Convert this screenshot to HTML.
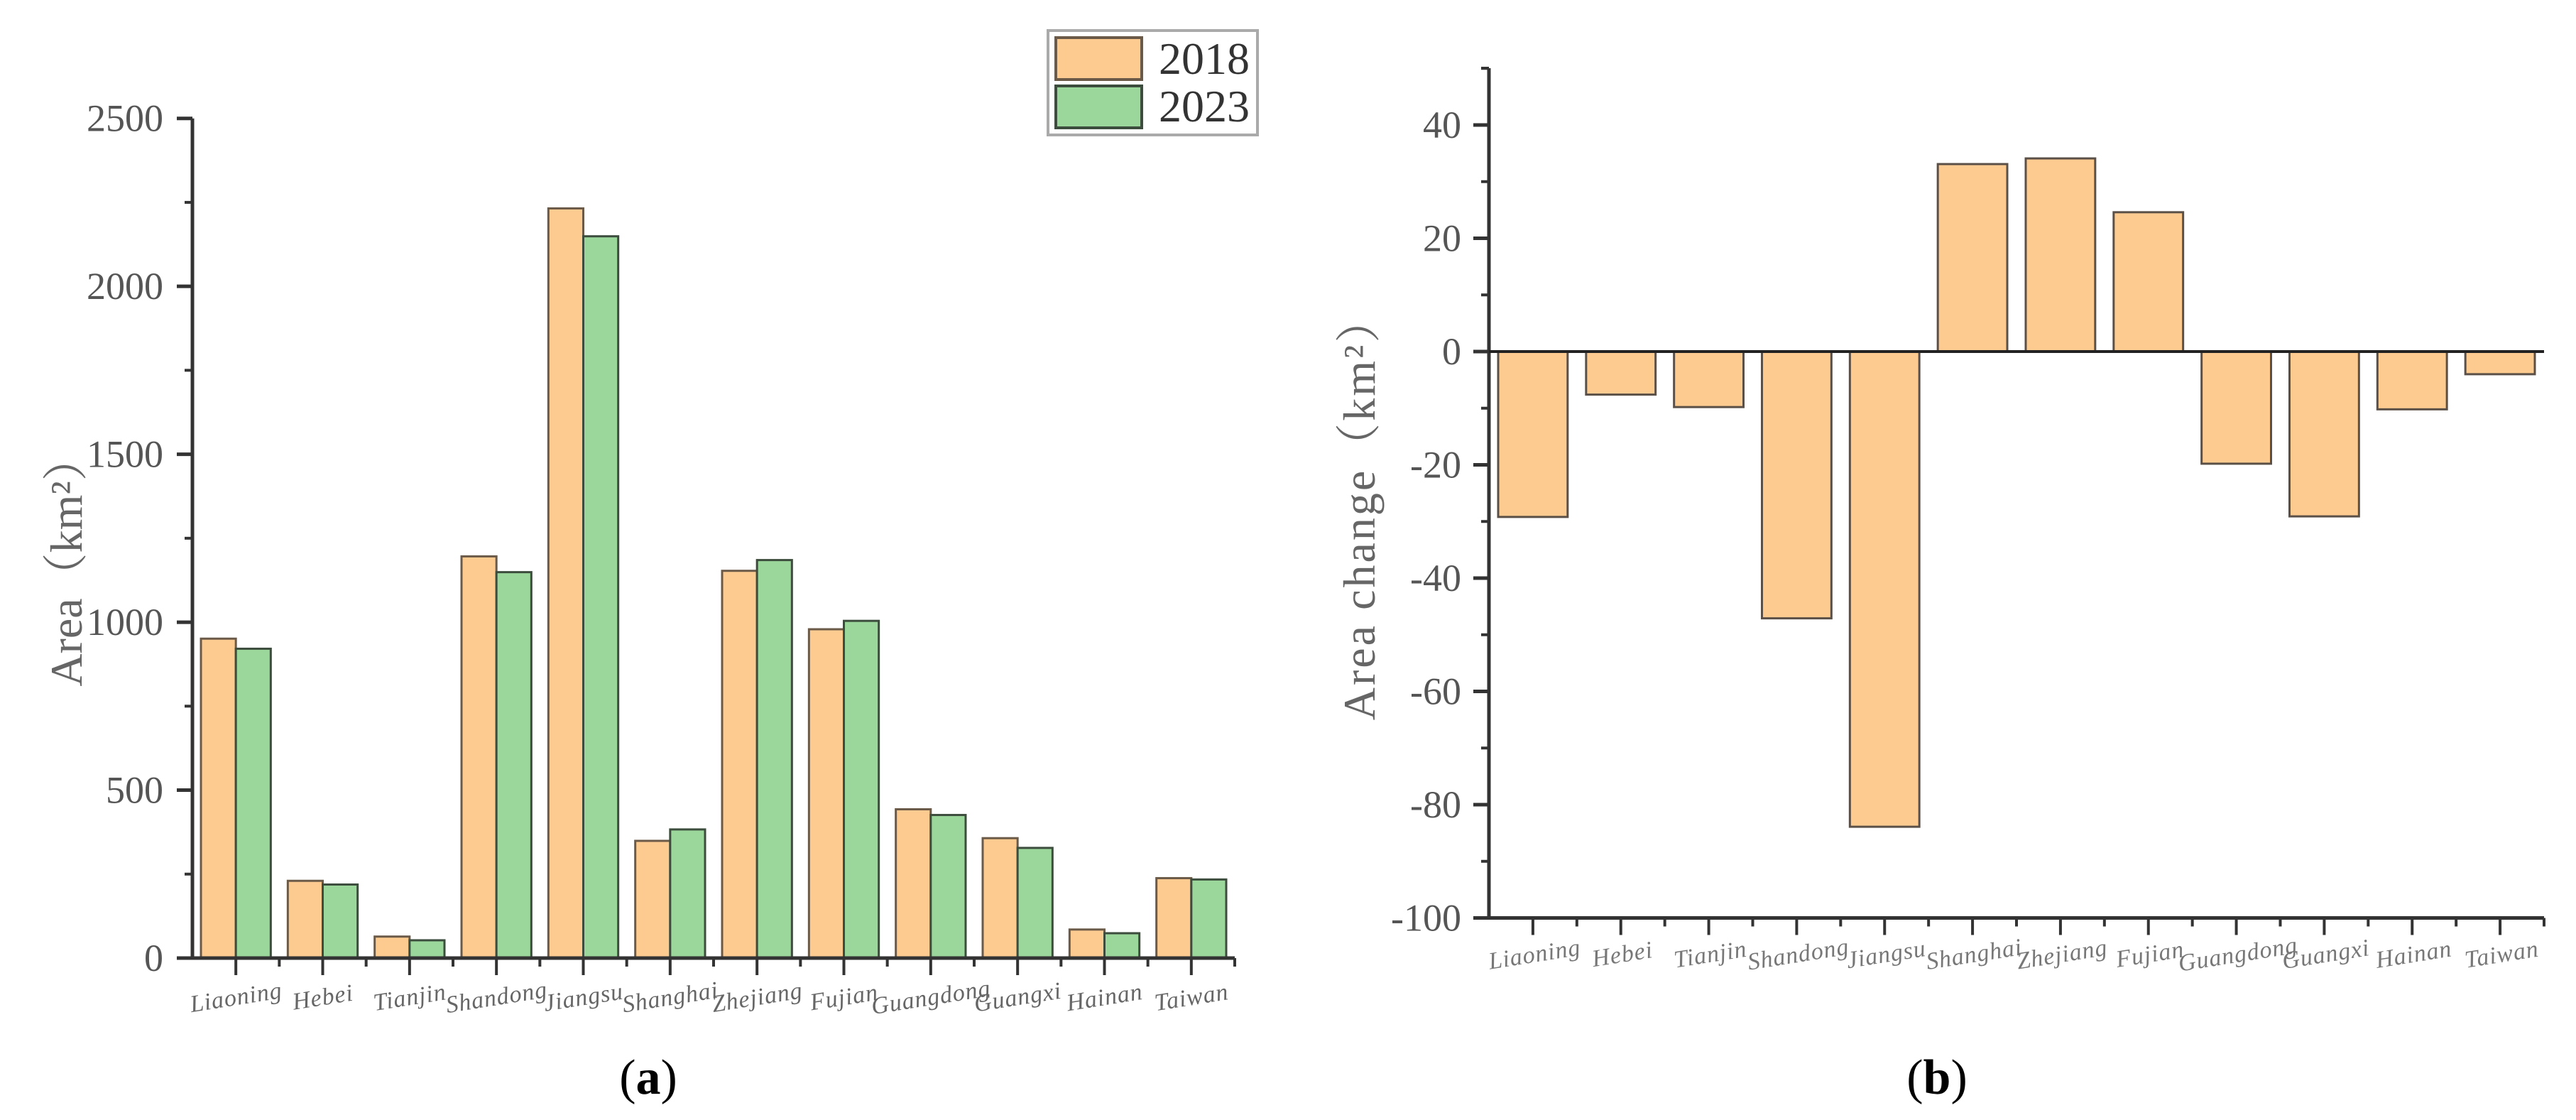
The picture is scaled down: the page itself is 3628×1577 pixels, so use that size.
<!DOCTYPE html>
<html><head><meta charset="utf-8"><style>
html,body{margin:0;padding:0;background:#fff;}
svg{display:block;}
</style></head><body>
<svg id="fig" width="3628" height="1577" viewBox="0 0 3628 1577" xmlns="http://www.w3.org/2000/svg">
<g id="chartA"></g>
<g id="chartB"></g>
<text x="913" y="1540" text-anchor="middle" font-family="Liberation Serif, serif" font-size="70" fill="#000">(<tspan font-weight="bold">a</tspan>)</text>
<text x="2728" y="1540" text-anchor="middle" font-family="Liberation Serif, serif" font-size="70" fill="#000">(<tspan font-weight="bold">b</tspan>)</text>
</svg>
<script>
const categories = ["Liaoning","Hebei","Tianjin","Shandong","Jiangsu","Shanghai","Zhejiang","Fujian","Guangdong","Guangxi","Hainan","Taiwan"];
const values2018 = [951,230,64,1196,2232,349,1153,979,443,357,85,238];
const values2023 = [921,219,53,1149,2149,383,1185,1004,426,328,74,234];
const changeValues = [-29.2,-7.6,-9.8,-47.1,-83.9,33.1,34.1,24.6,-19.8,-29.1,-10.2,-4.0];
const ticksA = [0,500,1000,1500,2000,2500];
const ticksB = [-100,-80,-60,-40,-20,0,20,40];

const NS="http://www.w3.org/2000/svg";
function mk(parent,tag,attrs){const e=document.createElementNS(NS,tag);for(const k in attrs)e.setAttribute(k,attrs[k]);parent.appendChild(e);return e;}
const ORANGE="#fdcb90", GREEN="#9bd69b", AX="#333", TXT="#555";
const LABEL_FONT="Liberation Serif, serif";

// ---------- Chart A ----------
const gA=document.getElementById('chartA');
const ax0=271, ax1=1739, ay0=1349, ayTop=166.7;
const yA=v=>ay0-(v/2500)*(ay0-ayTop);
const gwA=(ax1-ax0)/categories.length;
categories.forEach((c,i)=>{
  const gx=ax0+i*gwA;
  const r1=mk(gA,'rect',{x:gx+12,y:yA(values2018[i]),width:gwA/2-12,height:ay0-yA(values2018[i]),fill:ORANGE,stroke:"#6b5a48","stroke-width":3});
  
  
  const r2=mk(gA,'rect',{x:gx+gwA/2,y:yA(values2023[i]),width:gwA/2-12,height:ay0-yA(values2023[i]),fill:GREEN,stroke:"#3d4d3d","stroke-width":3});
  
  
  const t=mk(gA,'text',{x:0,y:0,"text-anchor":"middle","font-family":LABEL_FONT,"font-style":"italic","font-size":34,"letter-spacing":1,fill:"#666",transform:`translate(${gx+gwA/2+2},${ay0+66}) rotate(-9)`});
  t.textContent=c;
  
  
  mk(gA,'line',{x1:gx+gwA/2,y1:ay0,x2:gx+gwA/2,y2:ay0+24,stroke:AX,"stroke-width":4});
  mk(gA,'line',{x1:gx+gwA,y1:ay0,x2:gx+gwA,y2:ay0+12,stroke:AX,"stroke-width":4});
});
ticksA.forEach(v=>{
  mk(gA,'line',{x1:ax0-22,y1:yA(v),x2:ax0,y2:yA(v),stroke:AX,"stroke-width":5});
  const t=mk(gA,'text',{x:230,y:yA(v)+18,"text-anchor":"end","font-family":"Liberation Serif, serif","font-size":54,fill:TXT});
  t.textContent=v;
  
  
  if(v<2500) mk(gA,'line',{x1:ax0-11,y1:yA(v+250),x2:ax0,y2:yA(v+250),stroke:AX,"stroke-width":4});
});
mk(gA,'line',{x1:ax0,y1:ayTop,x2:ax0,y2:ay0,stroke:AX,"stroke-width":5});
mk(gA,'line',{x1:ax0-22,y1:ay0,x2:ax1,y2:ay0,stroke:AX,"stroke-width":5});
{const t=mk(gA,'text',{x:0,y:0,"text-anchor":"middle","font-family":"Liberation Serif, 'Noto Serif CJK SC', serif","font-size":64,fill:"#666",transform:"translate(115,790) rotate(-90)"});
t.textContent="Area（km²）";

}
// legend
{const lg=mk(gA,'g',{});


mk(lg,'rect',{x:1476,y:43,width:295,height:147,fill:"#fff",stroke:"#aaa","stroke-width":4});
mk(lg,'rect',{x:1487,y:53,width:121,height:59,fill:ORANGE,stroke:"#6b5a48","stroke-width":4});
mk(lg,'rect',{x:1487,y:121,width:121,height:59,fill:GREEN,stroke:"#3d4d3d","stroke-width":4});
const a=mk(lg,'text',{x:1760,y:104,"text-anchor":"end","font-family":"Liberation Serif, serif","font-size":64,fill:"#333"});a.textContent="2018";


const b=mk(lg,'text',{x:1760,y:171,"text-anchor":"end","font-family":"Liberation Serif, serif","font-size":64,fill:"#333"});b.textContent="2023";

}

// ---------- Chart B ----------
const gB=document.getElementById('chartB');
const bx0=2097, bx1=3583, by0=495, bPer20=159.5, bTop=96;
const yB=v=>by0-(v/20)*bPer20;
const byBottom=yB(-100);
const gwB=(bx1-bx0)/categories.length;
categories.forEach((c,i)=>{
  const gx=bx0+i*gwB, v=changeValues[i];
  const y1=Math.min(yB(v),by0), h=Math.abs(yB(v)-by0);
  const r=mk(gB,'rect',{x:gx+13,y:y1,width:gwB-26,height:h,fill:ORANGE,stroke:"#5a5048","stroke-width":3});
  
  
  const t=mk(gB,'text',{x:0,y:0,"text-anchor":"middle","font-family":LABEL_FONT,"font-style":"italic","font-size":34,"letter-spacing":1,fill:"#777",transform:`translate(${gx+gwB/2+4},${byBottom+62}) rotate(-9)`});
  t.textContent=c;
  
  
  mk(gB,'line',{x1:gx+gwB/2,y1:byBottom,x2:gx+gwB/2,y2:byBottom+24,stroke:AX,"stroke-width":4});
  mk(gB,'line',{x1:gx+gwB,y1:byBottom,x2:gx+gwB,y2:byBottom+12,stroke:AX,"stroke-width":4});
});
ticksB.forEach(v=>{
  mk(gB,'line',{x1:bx0-22,y1:yB(v),x2:bx0,y2:yB(v),stroke:AX,"stroke-width":5});
  const t=mk(gB,'text',{x:2058,y:yB(v)+18,"text-anchor":"end","font-family":"Liberation Serif, serif","font-size":54,fill:TXT});
  t.textContent=v<0?"-"+Math.abs(v):v;
  
  
  mk(gB,'line',{x1:bx0-11,y1:yB(v+10),x2:bx0,y2:yB(v+10),stroke:AX,"stroke-width":4});
});
mk(gB,'line',{x1:bx0-11,y1:bTop,x2:bx0,y2:bTop,stroke:AX,"stroke-width":4});
mk(gB,'line',{x1:bx0,y1:bTop,x2:bx0,y2:byBottom,stroke:AX,"stroke-width":5});
mk(gB,'line',{x1:bx0,y1:by0,x2:bx1,y2:by0,stroke:"#222","stroke-width":4});
mk(gB,'line',{x1:bx0-22,y1:byBottom,x2:bx1,y2:byBottom,stroke:AX,"stroke-width":5});
{const t=mk(gB,'text',{x:0,y:0,"text-anchor":"middle","font-family":"Liberation Serif, 'Noto Serif CJK SC', serif","font-size":64,"letter-spacing":3,fill:"#666",transform:"translate(1936,715) rotate(-90)"});
t.textContent="Area change（km²）";

}
</script>
</body></html>
